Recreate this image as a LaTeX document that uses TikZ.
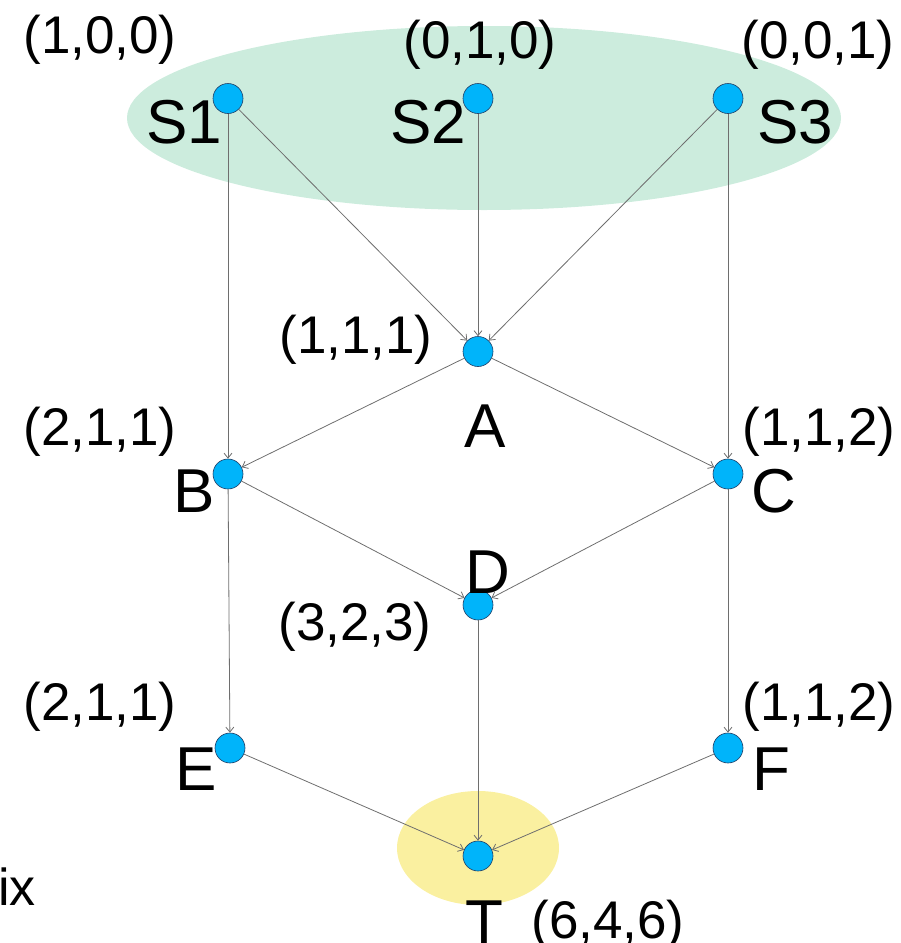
\documentclass[tikz,border=0pt]{standalone}
\usepackage{fontspec}
\setmainfont{Liberation Sans}
\usetikzlibrary{arrows.meta}
\definecolor{mint}{RGB}{204,236,221}
\definecolor{paleyellow}{RGB}{250,240,160}
\definecolor{dotfill}{RGB}{0,180,250}
\definecolor{dotline}{RGB}{30,60,100}
\definecolor{edgegray}{RGB}{110,110,110}
\tikzset{
  vtx/.style={circle, fill=dotfill, draw=dotline, line width=0.6pt, minimum size=30pt, inner sep=0pt},
  edge/.style={draw=edgegray, line width=0.8pt, -{Straight Barb[length=5pt,width=8pt]}},
  biglbl/.style={anchor=base, inner sep=0pt, font=\fontsize{62}{70}\selectfont},
  coordlbl/.style={anchor=base, inner sep=0pt, font=\fontsize{53}{60}\selectfont}
}
\begin{document}
\begin{tikzpicture}[x=1pt,y=-1pt]
\useasboundingbox (0,0) rectangle (901,943);
\clip (0,0) rectangle (901,943);
% background ellipses
\fill[mint] (484,118) ellipse [x radius=357, y radius=92];
\fill[paleyellow] (478,848) ellipse [x radius=81, y radius=57];
% vertices
\node[vtx] (S1) at (228,98.5) {};
\node[vtx] (S2) at (478,98.5) {};
\node[vtx] (S3) at (728,98.5) {};
\node[vtx] (A) at (478,351.5) {};
\node[vtx] (B) at (228,474) {};
\node[vtx] (C) at (728,474) {};
\node[vtx] (D) at (478,605) {};
\node[vtx] (E) at (230,748) {};
\node[vtx] (F) at (728,748) {};
\node[vtx] (T) at (478,856) {};
% edges
\draw[edge] (S1) -- (B);
\draw[edge] (S1) -- (A);
\draw[edge] (S2) -- (A);
\draw[edge] (S3) -- (A);
\draw[edge] (S3) -- (C);
\draw[edge] (A) -- (B);
\draw[edge] (A) -- (C);
\draw[edge] (B) -- (D);
\draw[edge] (C) -- (D);
\draw[edge] (B) -- (E);
\draw[edge] (C) -- (F);
\draw[edge] (D) -- (T);
\draw[edge] (E) -- (T);
\draw[edge] (F) -- (T);
% vertex names
\node[biglbl] (lS1) at (184,143) {S1};
\node[biglbl] (lS2) at (428,143) {S2};
\node[biglbl] (lS3) at (795,143) {S3};
\node[biglbl] (lA) at (485,447) {A};
\node[biglbl] (lB) at (194,512) {B};
\node[biglbl] (lC) at (774,512) {C};
\node[biglbl] (lD) at (488,593) {D};
\node[biglbl] (lE) at (196,790) {E};
\node[biglbl] (lF) at (771,790) {F};
\node[biglbl] (lT) at (484,943) {T};
% coordinate labels
\node[coordlbl] (c1) at (100,53) {(1,0,0)};
\node[coordlbl] (c2) at (480,58) {(0,1,0)};
\node[coordlbl] (c3) at (818,58) {(0,0,1)};
\node[coordlbl] (cA) at (356,353) {(1,1,1)};
\node[coordlbl] (cB) at (100,445) {(2,1,1)};
\node[coordlbl] (cC) at (819,445) {(1,1,2)};
\node[coordlbl] (cD) at (355,640) {(3,2,3)};
\node[coordlbl] (cE) at (100,720) {(2,1,1)};
\node[coordlbl] (cF) at (819,720) {(1,1,2)};
\node[coordlbl] (cT) at (608,938) {(6,4,6)};
% cut-off text at left edge
\node[anchor=base west, inner sep=0pt, font=\fontsize{52}{60}\selectfont] (ix) at (-2,905) {ix};
\end{tikzpicture}
\end{document}
